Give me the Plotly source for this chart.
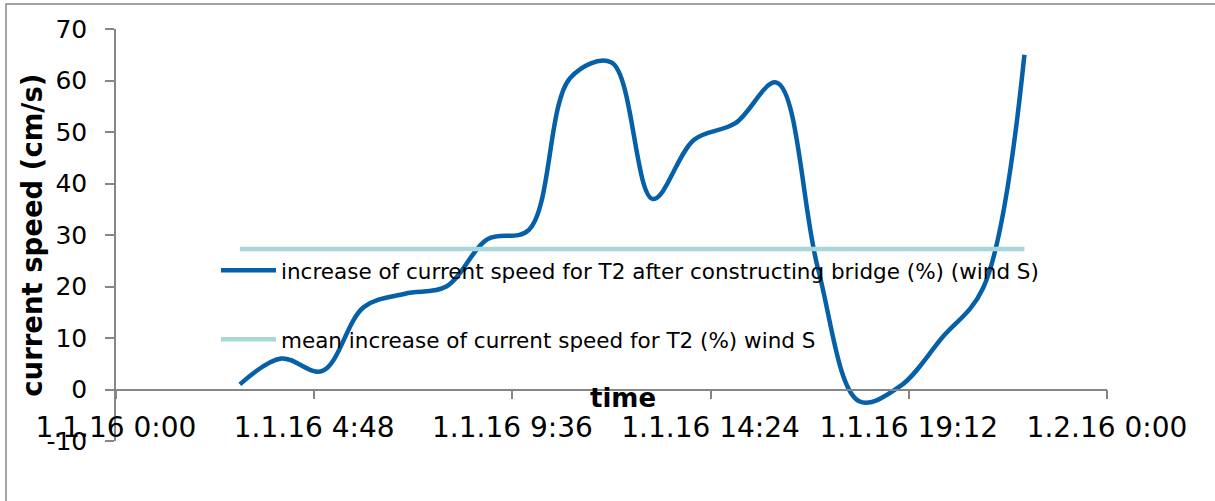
import plotly.graph_objects as go

# ---- data ----
times = [
    "2016-01-01 03:00", "2016-01-01 04:00", "2016-01-01 05:00", "2016-01-01 06:00",
    "2016-01-01 07:00", "2016-01-01 08:00", "2016-01-01 09:00", "2016-01-01 10:00",
    "2016-01-01 11:00", "2016-01-01 12:00", "2016-01-01 13:00", "2016-01-01 14:00",
    "2016-01-01 15:00", "2016-01-01 16:00", "2016-01-01 17:00", "2016-01-01 18:00",
    "2016-01-01 19:00", "2016-01-01 20:00", "2016-01-01 21:00", "2016-01-01 22:00",
]
increase_t2 = [1.0, 6.0, 3.6, 16.0, 18.6, 20.0, 29.2, 31.0, 60.5, 63.5,
               37.0, 48.5, 51.7, 59.6, 23.5, -2.3, 0.7, 10.0, 19.7, 65.0]
mean_increase = [27.3] * len(times)

x_tick_vals = ["2016-01-01 00:00", "2016-01-01 04:48", "2016-01-01 09:36",
               "2016-01-01 14:24", "2016-01-01 19:12", "2016-01-02 00:00"]
x_tick_text = ["1.1.16 0:00", "1.1.16 4:48", "1.1.16 9:36",
               "1.1.16 14:24", "1.1.16 19:12", "1.2.16 0:00"]
y_tick_vals = [-10, 0, 10, 20, 30, 40, 50, 60, 70]
y_tick_text = ["-10", "0", "10", "20", "30", "40", "50", "60", "70"]

name_increase = "increase of current speed for T2 after constructing bridge (%) (wind S)"
name_mean = "mean increase of current speed for T2 (%) wind S"
y_title = "current speed (cm/s)"
x_title = "time"

BLUE = "#0560A8"
TEAL = "#A7D7D9"
AXIS = "#868686"
FONT = "DejaVu Sans, Verdana, sans-serif"

fig = go.Figure()
fig.add_trace(go.Scatter(
    x=times, y=increase_t2, mode="lines", name=name_increase,
    line=dict(color=BLUE, width=4.5, shape="spline", smoothing=1.0),
    legendgroup="a",
))
fig.add_trace(go.Scatter(
    x=times, y=mean_increase, mode="lines", name=name_mean,
    line=dict(color=TEAL, width=4.5),
    legendgroup="b",
))

# plot area: x 116..1107 px, y 29.3..441.5 px
L, R, T, B = 116, 1215 - 1107, 29, 501 - 441.5
pw, ph = 1215 - L - R, 501 - T - B

def px_x(p):
    return (p - L) / pw

def px_y(p):
    return (501 - B - p) / ph

fig.update_layout(
    width=1215, height=501,
    margin=dict(l=L, r=R, t=T, b=B, pad=0),
    paper_bgcolor="white", plot_bgcolor="white",
    font=dict(family=FONT, color="black"),
    showlegend=True,
    legend=dict(
        x=px_x(216), y=px_y(250), xanchor="left", yanchor="top",
        bgcolor="rgba(0,0,0,0)", borderwidth=0,
        font=dict(size=21.5, family=FONT, color="black"),
        tracegroupgap=38, itemwidth=55,
    ),
    xaxis=dict(
        type="date", automargin=False,
        range=["2016-01-01 00:00", "2016-01-02 00:00"],
        tickmode="array", tickvals=x_tick_vals, ticktext=x_tick_text,
        tickfont=dict(size=28, family=FONT, color="black"),
        showline=True, linecolor=AXIS, linewidth=1.5,
        ticks="outside", ticklen=9, tickcolor=AXIS, tickwidth=1.5,
        showgrid=False, zeroline=False,
        anchor="free", position=0.125,
        ticklabelstandoff=4,
    ),
    yaxis=dict(
        range=[-10, 70], automargin=False,
        tickmode="array", tickvals=y_tick_vals, ticktext=y_tick_text,
        tickfont=dict(size=25, family=FONT, color="black"),
        showline=True, linecolor=AXIS, linewidth=1.5,
        ticks="outside", ticklen=9, tickcolor=AXIS, tickwidth=1.5,
        showgrid=False, zeroline=False,
        ticklabelstandoff=13,
    ),
    annotations=[
        dict(
            text="<b>" + x_title + "</b>", xref="paper", yref="y", x=px_x(623), y=0,
            xanchor="center", yanchor="top", yshift=9, showarrow=False,
            font=dict(size=26, family=FONT, color="black"),
        ),
        dict(
            text="<b>" + y_title + "</b>", xref="paper", yref="paper",
            x=px_x(32), y=px_y(236), xanchor="center", yanchor="middle",
            textangle=-90, showarrow=False,
            font=dict(size=27.5, family=FONT, color="black"),
        ),
    ],
    shapes=[dict(
        type="rect", xref="paper", yref="paper", layer="below",
        x0=px_x(6), x1=px_x(1230), y0=px_y(520), y1=px_y(4),
        line=dict(color=AXIS, width=1.5), fillcolor="rgba(0,0,0,0)",
    )],
)

fig.write_html("out.html", config={"displayModeBar": False},
               post_script="document.body.style.margin='0';")
